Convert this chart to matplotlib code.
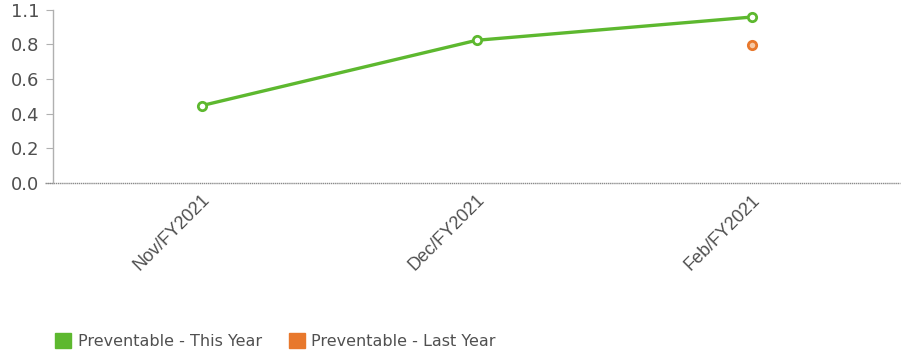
import matplotlib as mp
mp.use('Agg')
import matplotlib.pyplot as plt
from matplotlib.patches import Patch

months = ['Nov/FY2021', 'Dec/FY2021', 'Feb/FY2021']
this_year = [0.446, 0.823, 0.957]
last_year = [None, None, 0.794]
ytick_vals = [0.0, 0.2, 0.4, 0.6, 0.8, 1.0]
ytick_text = ['0.0', '0.2', '0.4', '0.6', '0.8', '1.1']

green = '#5db82f'
orange = '#e8782c'

fig = plt.figure(figsize=(9.06, 3.56), dpi=100)
ax = fig.add_axes([0.0585, 0.486, 0.935, 0.487])

x = list(range(len(months)))
ax.plot(x, this_year, color=green, lw=2.4, marker='o', ms=6,
        mfc='white', mec=green, mew=2, zorder=3)
lx = [i for i, v in zip(x, last_year) if v is not None]
ly = [v for v in last_year if v is not None]
ax.plot(lx, ly, ls='none', marker='o', ms=6, mfc='#f6c9a6', mec=orange,
        mew=2, zorder=3)

ax.set_xlim(-0.54, 2.54)
ax.set_ylim(0, 1.0)
ax.set_yticks(ytick_vals, labels=ytick_text)
ax.set_xticks(x, labels=months, rotation=45, ha='right', rotation_mode='anchor',
              family='Liberation Sans')

for s in ['top', 'right', 'bottom']:
    ax.spines[s].set_visible(False)
ax.spines['left'].set_color('#b0b0b0')
ax.spines['left'].set_linewidth(1)
ax.tick_params(axis='y', length=5, color='#b0b0b0', labelsize=13,
               labelcolor='#505050', pad=5)
ax.tick_params(axis='x', length=0, labelsize=13, labelcolor='#505050', pad=6)

# baseline running slightly past the y axis
ax.axhline(0, xmin=-0.01, xmax=1.0, color='#8a8a8a', lw=1, ls=(0, (1, 0.5)),
           clip_on=False, zorder=2)

handles = [Patch(facecolor=green, edgecolor=green, label='Preventable - This Year'),
           Patch(facecolor=orange, edgecolor=orange, label='Preventable - Last Year')]
fig.legend(handles=handles, loc='lower left', bbox_to_anchor=(0.045, -0.02),
           ncol=2, frameon=False, fontsize=11.5, labelcolor='#505050',
           handlelength=1.0, handleheight=1.1, handletextpad=0.4,
           columnspacing=1.7)

plt.savefig('out.png')
